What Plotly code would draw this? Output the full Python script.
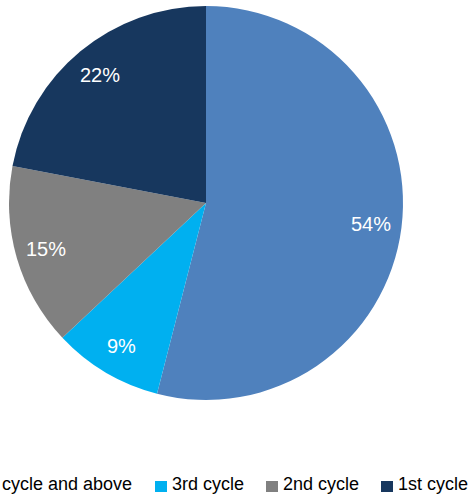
import math
import plotly.graph_objects as go

categories = ["4th cycle and above", "3rd cycle", "2nd cycle", "1st cycle"]
values = [54, 9, 15, 22]
colors = ["#4F81BD", "#00B0F0", "#808080", "#17375E"]

FONT = "Liberation Sans, Arial, sans-serif"

fig = go.Figure(
    go.Pie(
        labels=categories,
        values=values,
        sort=False,
        direction="clockwise",
        rotation=0,
        marker=dict(colors=colors, line=dict(width=0)),
        textinfo="none",
        showlegend=False,
        hoverinfo="label+percent",
        domain=dict(x=[0, 1], y=[0, 1]),
    )
)

# percentage labels placed near the outer edge along each slice's mid-angle
LABEL_R = 0.845  # fraction of radius
total = sum(values)
annotations = []
cum = 0.0
for v in values:
    mid = (cum + v / 2) / total * 2 * math.pi
    cum += v
    annotations.append(dict(
        text=f"{round(100 * v / total)}%",
        xref="paper", yref="paper",
        x=0.5 + 0.5 * LABEL_R * math.sin(mid),
        y=0.5 + 0.5 * LABEL_R * math.cos(mid),
        xanchor="center", yanchor="middle", showarrow=False,
        font=dict(size=20, color="white", family=FONT),
    ))

# legend drawn manually (reference legend is wider than the canvas and clipped)
L, T, W = 9, 6, 394
legend_px = [-45, 155, 266, 381]  # left edge of each legend square, in pixels
sym_top, sym_bot, text_mid = 481, 492, 484
shapes = []
for name, col, px in zip(categories, colors, legend_px):
    shapes.append(dict(
        type="rect", xref="paper", yref="paper",
        xsizemode="pixel", ysizemode="pixel", xanchor=0, yanchor=0,
        x0=px - L, x1=px - L + 12,
        y0=-(sym_bot - (T + W)), y1=-(sym_top - (T + W)),
        fillcolor=col, line=dict(width=0),
    ))
    annotations.append(dict(
        text=name, xref="paper", yref="paper", x=0, y=0,
        xshift=px - L + 15, yshift=-(text_mid - (T + W)),
        xanchor="left", yanchor="middle", showarrow=False,
        font=dict(size=18, color="#000000", family=FONT),
    ))

fig.update_layout(
    width=471, height=501,
    margin=dict(l=L, r=471 - L - W, t=T, b=501 - T - W, autoexpand=False),
    paper_bgcolor="white", plot_bgcolor="white",
    shapes=shapes, annotations=annotations,
)

fig.write_html("out.html")
